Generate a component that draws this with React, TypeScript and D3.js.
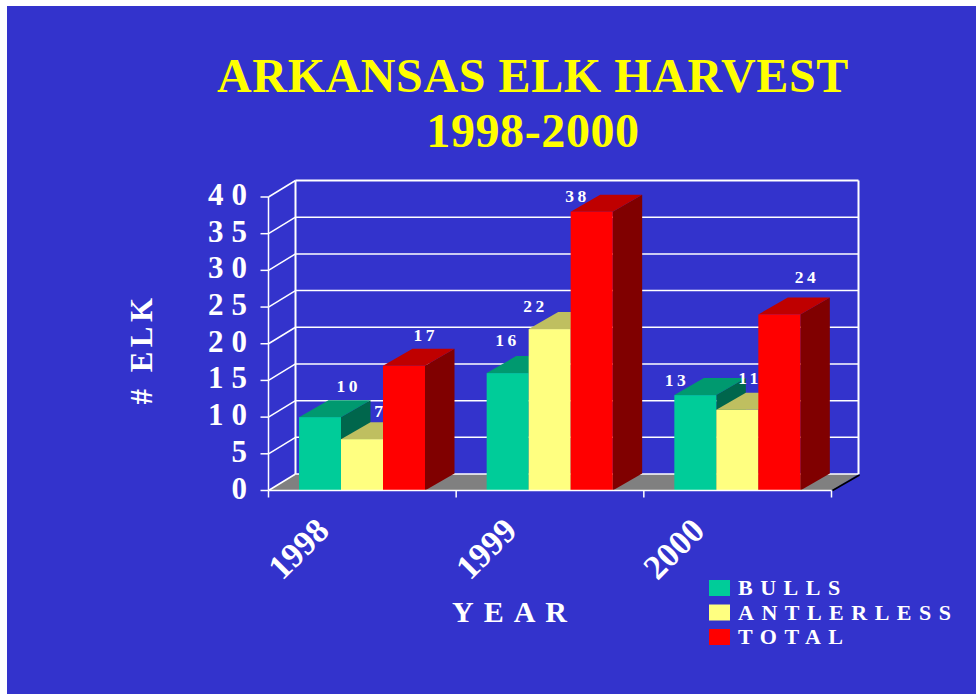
import { useEffect, useRef } from 'react';
import * as d3 from 'd3';

const years = ['1998', '1999', '2000'];
const seriesNames = ['BULLS', 'ANTLERLESS', 'TOTAL'];
const bulls = [10, 16, 13];
const antlerless = [7, 22, 11];
const total = [17, 38, 24];
const yTicks = [0, 5, 10, 15, 20, 25, 30, 35, 40];

const faceColors = ['#00CC99', '#FFFF80', '#FF0000'];
const topColors = ['#00996F', '#BFBF60', '#BF0000'];
const sideColors = ['#00664C', '#808040', '#800000'];

// data labels were hand placed in the original, offset from the top of each bar
const labelDx = [[27, -2, -20], [16.5, -16, 11], [20, -16, 26]];
const labelDy = [[-25.5, -27, -9], [-22, -17, -26], [-25, -10, -31]];

export default function App() {
  const svgRef = useRef<SVGSVGElement>(null);

  useEffect(() => {
    if (!svgRef.current) return;
    const width = 976;
    const height = 694;
    const serif = '"Liberation Serif", "Times New Roman", serif';

    const svg = d3.select(svgRef.current);
    svg.selectAll('*').remove();

    svg.append('rect')
      .attr('x', 7).attr('y', 6)
      .attr('width', width - 7).attr('height', height - 6)
      .attr('fill', '#3333CC');

    const titleLines = ['ARKANSAS ELK HARVEST', '1998-2000'];
    svg.selectAll('.title')
      .data(titleLines)
      .join('text')
      .attr('class', 'title')
      .attr('x', 533)
      .attr('y', (_, i) => 92 + i * 55)
      .attr('text-anchor', 'middle')
      .style('font-family', serif)
      .style('font-weight', 'bold')
      .style('font-size', '48px')
      .style('letter-spacing', '0.6px')
      .style('fill', '#FFFF00')
      .text(d => d);

    // front plane of the 3d box, back wall sits up and to the right of it
    const x0 = d3.scaleBand().domain(years).range([268.5, 831.5]);
    const x1 = d3.scaleBand().domain(seriesNames).range([30.5, 156.5]);
    const y = d3.scaleLinear().domain([0, 40]).range([490.5, 197]);
    const wallDx = 27;
    const wallDy = 16.5;
    const barDx = 29.5;
    const barDy = 17;
    const floorY = y(0);
    const left = x0.range()[0];
    const right = x0.range()[1];

    // floor
    svg.append('polygon')
      .attr('points', [
        [left, floorY], [left + wallDx, floorY - wallDy],
        [right + wallDx, floorY - wallDy], [right, floorY],
      ].join(' '))
      .attr('fill', '#808080');
    svg.append('line')
      .attr('x1', right + 1).attr('y1', floorY)
      .attr('x2', right + wallDx + 1).attr('y2', floorY - wallDy + 1)
      .attr('stroke', '#000').attr('stroke-width', 1.5);

    // grid on the side wall and back wall
    const grid = svg.append('g').attr('stroke', '#fff').attr('fill', 'none');
    grid.selectAll('.side')
      .data(yTicks)
      .join('line')
      .attr('class', 'side')
      .attr('x1', left).attr('y1', d => y(d))
      .attr('x2', left + wallDx).attr('y2', d => y(d) - wallDy)
      .attr('stroke-width', 1.5);
    grid.selectAll('.back')
      .data(yTicks)
      .join('line')
      .attr('class', 'back')
      .attr('x1', left + wallDx).attr('y1', d => y(d) - wallDy)
      .attr('x2', right + wallDx).attr('y2', d => y(d) - wallDy)
      .attr('stroke-width', d => (d === 40 ? 2 : 1.5));
    grid.append('line')
      .attr('x1', left + wallDx).attr('y1', y(40) - wallDy)
      .attr('x2', left + wallDx).attr('y2', floorY - wallDy)
      .attr('stroke-width', 2);
    grid.append('line')
      .attr('x1', right + wallDx).attr('y1', y(40) - wallDy)
      .attr('x2', right + wallDx).attr('y2', floorY - wallDy)
      .attr('stroke-width', 2);

    // bars, one series at a time so later bars cover earlier labels
    const barWidth = x1.bandwidth();
    [bulls, antlerless, total].forEach((values, s) => {
      const xOf = (i: number) => (x0(years[i]) || 0) + (x1(seriesNames[s]) || 0);
      const g = svg.append('g');
      values.forEach((v, i) => {
        const bx = xOf(i);
        const by = y(v);
        g.append('polygon')
          .attr('points', [
            [bx + barWidth, by], [bx + barWidth + barDx, by - barDy],
            [bx + barWidth + barDx, floorY - barDy], [bx + barWidth, floorY],
          ].join(' '))
          .attr('fill', sideColors[s]);
        g.append('polygon')
          .attr('points', [
            [bx, by], [bx + barDx, by - barDy],
            [bx + barWidth + barDx, by - barDy], [bx + barWidth, by],
          ].join(' '))
          .attr('fill', topColors[s]);
        g.append('rect')
          .attr('x', bx).attr('y', by)
          .attr('width', barWidth).attr('height', floorY - by)
          .attr('fill', faceColors[s]);
        g.append('text')
          .attr('x', bx + barWidth / 2 + labelDx[s][i] + 1.75)
          .attr('y', by + labelDy[s][i])
          .attr('text-anchor', 'middle')
          .style('font-family', serif)
          .style('font-weight', 'bold')
          .style('font-size', '17.5px')
          .style('letter-spacing', '3.5px')
          .style('fill', '#fff')
          .text(v);
      });
    });

    // front axes
    const axis = svg.append('g').attr('stroke', '#fff').attr('stroke-width', 1.5);
    axis.append('line')
      .attr('x1', left).attr('y1', floorY).attr('x2', right).attr('y2', floorY);
    axis.append('line')
      .attr('x1', left).attr('y1', y(40)).attr('x2', left).attr('y2', floorY);
    axis.selectAll('.ytick')
      .data(yTicks)
      .join('line')
      .attr('class', 'ytick')
      .attr('x1', left - 8).attr('y1', d => y(d))
      .attr('x2', left).attr('y2', d => y(d));
    axis.selectAll('.xtick')
      .data([...years.map(d => x0(d) || 0), right])
      .join('line')
      .attr('class', 'xtick')
      .attr('x1', d => d).attr('y1', floorY)
      .attr('x2', d => d).attr('y2', floorY + 7);

    svg.selectAll('.ylabel')
      .data(yTicks)
      .join('text')
      .attr('class', 'ylabel')
      .attr('x', 255)
      .attr('y', d => y(d) + 8)
      .attr('text-anchor', 'end')
      .style('font-family', serif)
      .style('font-weight', 'bold')
      .style('font-size', '31px')
      .style('letter-spacing', '8px')
      .style('fill', '#fff')
      .text(d => d);

    svg.selectAll('.xlabel')
      .data(years)
      .join('text')
      .attr('class', 'xlabel')
      .attr('transform', d => `translate(${(x0(d) || 0) + 54},${524}) rotate(-45)`)
      .attr('text-anchor', 'end')
      .attr('dy', '0.35em')
      .style('font-family', serif)
      .style('font-weight', 'bold')
      .style('font-size', '34.5px')
      .style('fill', '#fff')
      .text(d => d);

    svg.append('text')
      .attr('x', 452).attr('y', 622)
      .style('font-family', serif)
      .style('font-weight', 'bold')
      .style('font-size', '30px')
      .style('letter-spacing', '10px')
      .style('fill', '#fff')
      .text('YEAR');

    svg.append('text')
      .attr('transform', 'translate(152,349) rotate(-90)')
      .attr('text-anchor', 'middle')
      .style('font-family', serif)
      .style('font-weight', 'bold')
      .style('font-size', '31px')
      .style('letter-spacing', '4.5px')
      .style('fill', '#fff')
      .text('# ELK');

    // legend
    const legendY = d3.scalePoint().domain(seriesNames).range([580, 629]);
    svg.selectAll('.swatch')
      .data(seriesNames)
      .join('rect')
      .attr('class', 'swatch')
      .attr('x', 709).attr('y', d => legendY(d) || 0)
      .attr('width', 21).attr('height', 16)
      .attr('fill', (_, i) => faceColors[i]);
    svg.selectAll('.legend')
      .data(seriesNames)
      .join('text')
      .attr('class', 'legend')
      .attr('x', 738).attr('y', d => (legendY(d) || 0) + 15)
      .style('font-family', serif)
      .style('font-weight', 'bold')
      .style('font-size', '22px')
      .style('letter-spacing', '7.5px')
      .style('fill', '#fff')
      .text(d => d);
  }, []);

  return (
    <svg
      ref={svgRef}
      width={976}
      height={694}
      style={{ position: 'absolute', left: 0, top: 0, display: 'block' }}
    />
  );
}
